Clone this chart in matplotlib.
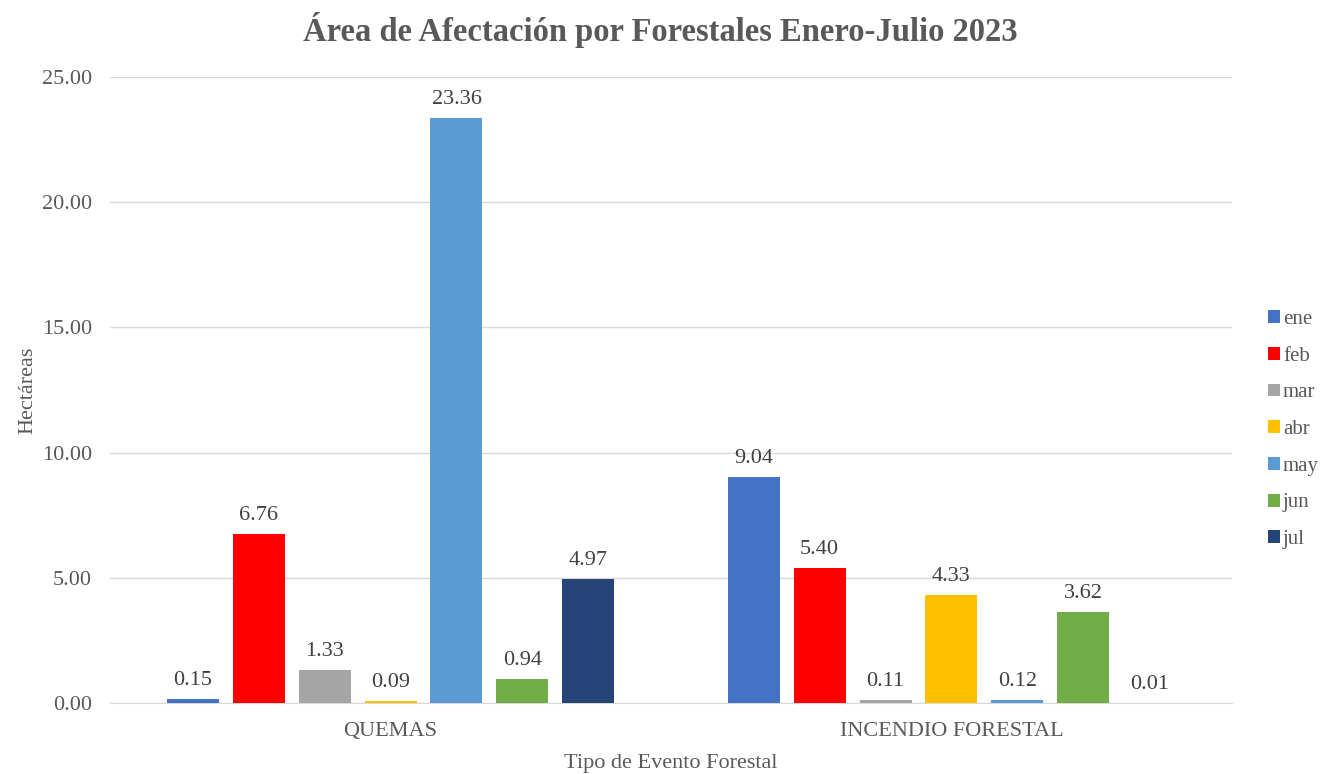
import matplotlib.pyplot as plt
import numpy as np

categories = ["QUEMAS", "INCENDIO FORESTAL"]
months = ["ene", "feb", "mar", "abr", "may", "jun", "jul"]
quemas = [0.15, 6.76, 1.33, 0.09, 23.36, 0.94, 4.97]
incendio = [9.04, 5.40, 0.11, 4.33, 0.12, 3.62, 0.01]
colors = ["#4472C4", "#FF0000", "#A5A5A5", "#FFC000", "#5B9BD5", "#70AD47", "#264478"]
yticks = [0, 5, 10, 15, 20, 25]

plt.rcParams['font.family'] = ['Liberation Serif', 'DejaVu Serif']
text_color = "#595959"
fs = 16

fig = plt.figure(figsize=(13.21, 7.74), dpi=100)
ax = fig.add_axes([0.0833, 0.0917, 0.8493, 0.8088])

x = np.arange(len(categories))
step = 0.1176
width = 0.0927
for i, (m, c) in enumerate(zip(months, colors)):
    vals = [quemas[i], incendio[i]]
    pos = x + (i - 3) * step
    bars = ax.bar(pos, vals, width=width, color=c, label=m, zorder=3)
    for b, v in zip(bars, vals):
        ax.annotate(f"{v:.2f}", (b.get_x() + b.get_width() / 2, v),
                    xytext=(0, 6.5), textcoords="offset points",
                    ha="center", va="bottom", fontsize=fs, color="#404040")

ax.set_xlim(-0.5, 1.5)
ax.set_ylim(0, 25)
ax.set_yticks(yticks)
ax.set_yticklabels([f"{t:.2f}" for t in yticks])
ax.set_xticks(x)
ax.set_xticklabels(categories)
ax.tick_params(axis="both", length=0, labelsize=fs, colors=text_color)
ax.tick_params(axis="x", pad=14)
ax.tick_params(axis="y", pad=13)
ax.grid(axis="y", color="#D9D9D9", linewidth=1, zorder=0)
for s in ["top", "right", "left"]:
    ax.spines[s].set_visible(False)
ax.spines["bottom"].set_color("#D9D9D9")

ax.set_ylabel("Hectáreas", fontsize=fs, color=text_color, labelpad=3)
ax.set_xlabel("Tipo de Evento Forestal", fontsize=fs, color=text_color, labelpad=9)
fig.suptitle("Área de Afectación por Forestales Enero-Julio 2023", fontsize=23.5,
             fontweight="bold", color=text_color, y=0.984)

leg = fig.legend(loc="center left", bbox_to_anchor=(0.946, 0.445), frameon=False,
                 fontsize=15, handlelength=0.58, handleheight=0.58, handletextpad=0.12,
                 labelspacing=0.85, labelcolor=text_color)

fig.savefig("out.png", dpi=100)
